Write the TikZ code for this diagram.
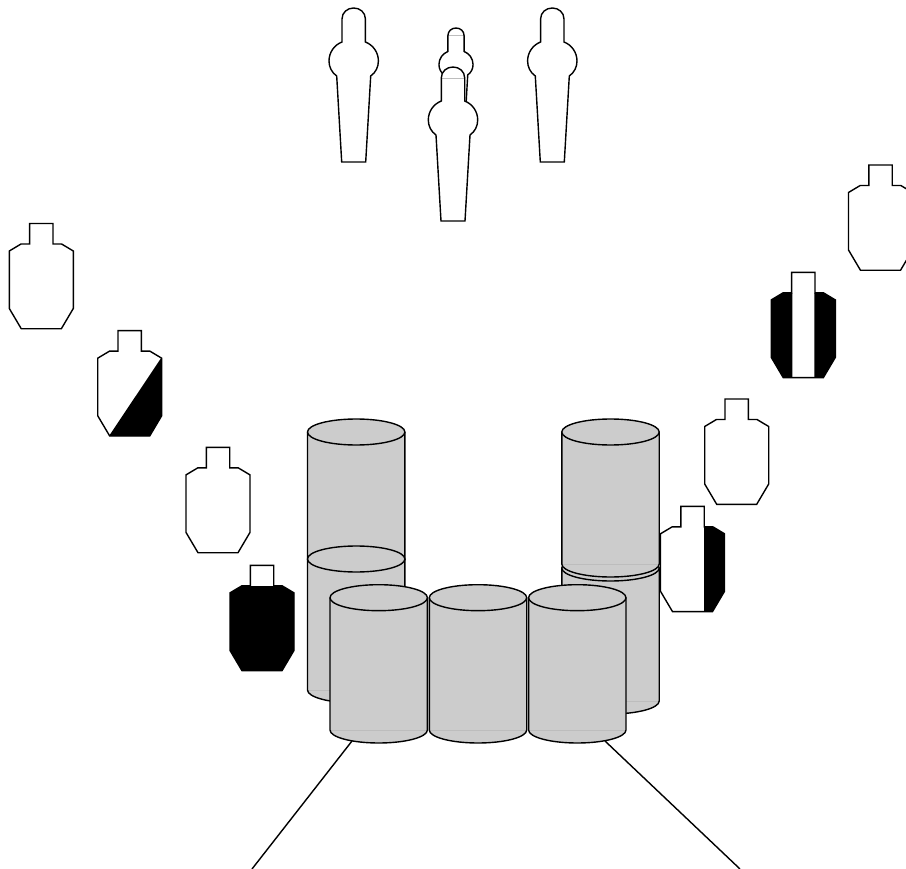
\documentclass[tikz,border=0pt]{standalone}
\definecolor{cylgray}{HTML}{CCCCCC}
\definecolor{faintgray}{HTML}{BDBDBD}
\tikzset{
  outline/.style={draw=black,line width=1.4pt,line join=miter},
  faint/.style={draw=faintgray,line width=0.5pt},
}
\def\tgpath{(-11.7,0) -- (11.7,0) -- (11.7,20.5) -- (20.3,20.5) -- (32,27.5) -- (32,85) -- (20,105.3) -- (-20,105.3) -- (-32,85) -- (-32,27.5) -- (-20.3,20.5) -- (-11.7,20.5) -- cycle}
\def\figpath{(-11.7,11) .. controls (-11.7,4.5) and (-6.4,0) .. (0,0) .. controls (6.4,0) and (11.7,4.5) .. (11.7,11) -- (11.7,34)
  .. controls (19.5,37) and (24.7,44.5) .. (24.7,53) .. controls (24.7,59) and (22,64.5) .. (17,68)
  -- (12,154) -- (-12,154) -- (-17,68)
  .. controls (-22,64.5) and (-24.7,59) .. (-24.7,53) .. controls (-24.7,44.5) and (-19.5,37) .. (-11.7,34) -- cycle}
% cx, top, black region path
\newcommand{\target}[3]{%
  \begin{scope}[shift={(#1,#2)}]
    \fill[white] \tgpath;
    \begin{scope}
      \clip \tgpath;
      \fill[black] #3;
    \end{scope}
    \draw[outline] \tgpath;
  \end{scope}}
% cx, top, scale, colour of the seam under the head
\newcommand{\figshape}[4]{%
  \begin{scope}[shift={(#1,#2)},scale=#3]
    \fill[white] \figpath;
    \draw[#4,line width=0.5pt] (-11.7,11) -- (11.7,11);
    \draw[outline] \figpath;
  \end{scope}}
% cx, top y, bottom y
\newcommand{\cyl}[3]{%
  \begin{scope}[shift={(#1,0)}]
    \fill[cylgray] (-48.7,#2) -- (-48.7,#3) arc[start angle=180,end angle=360,x radius=48.7pt,y radius=13pt] -- (48.7,#2) -- cycle;
    \draw[faint] (-48.7,#3) -- (48.7,#3);
    \draw[outline] (-48.7,#2) -- (-48.7,#3) arc[start angle=180,end angle=360,x radius=48.7pt,y radius=13pt] -- (48.7,#2);
    \draw[outline,fill=cylgray] (0,#2) ellipse[x radius=48.7pt,y radius=13pt];
  \end{scope}}
\begin{document}
\begin{tikzpicture}[x=1pt,y=-1pt]
  \useasboundingbox (0,0) rectangle (906,869);
  \clip (0,0) rectangle (906,869);
  % top figures
  \figshape{353.7}{8}{1}{white}
  \figshape{552.3}{8}{1}{white}
  \figshape{456}{28}{0.69}{faintgray}
  \figshape{453}{67}{1}{faintgray}
  % left targets
  \target{41.3}{223.5}{(0,0) rectangle (0,0)}
  \target{129.7}{330.7}{(-20.7,105.3) -- (33,25) -- (40,110) -- cycle}
  \target{218}{447.4}{(0,0) rectangle (0,0)}
  % right targets
  \target{880.5}{165}{(0,0) rectangle (0,0)}
  \target{803.3}{272.4}{(-40,20.5) rectangle (-11,110) (11,20.5) rectangle (40,110)}
  \target{736.7}{399}{(0,0) rectangle (0,0)}
  % back cylinders
  \cyl{356.2}{432}{559}
  \cyl{356.2}{559}{690}
  \cyl{610.5}{568}{701}
  \cyl{610.5}{432}{564}
  \target{692.5}{506.3}{(11,0) rectangle (40,110)}
  \target{262}{565.4}{(-40,20.5) rectangle (40,110)}
  % lines below the front row
  \coordinate (la) at (352,741);
  \coordinate (lb) at (252,869);
  \coordinate (ra) at (605,741);
  \coordinate (rb) at (740,869);
  \draw[outline] (la) -- (lb);
  \draw[outline] (ra) -- (rb);
  % front cylinders
  \cyl{378.7}{597.7}{730}
  \cyl{478}{597.7}{730}
  \cyl{577.3}{597.7}{730}
\end{tikzpicture}
\end{document}
